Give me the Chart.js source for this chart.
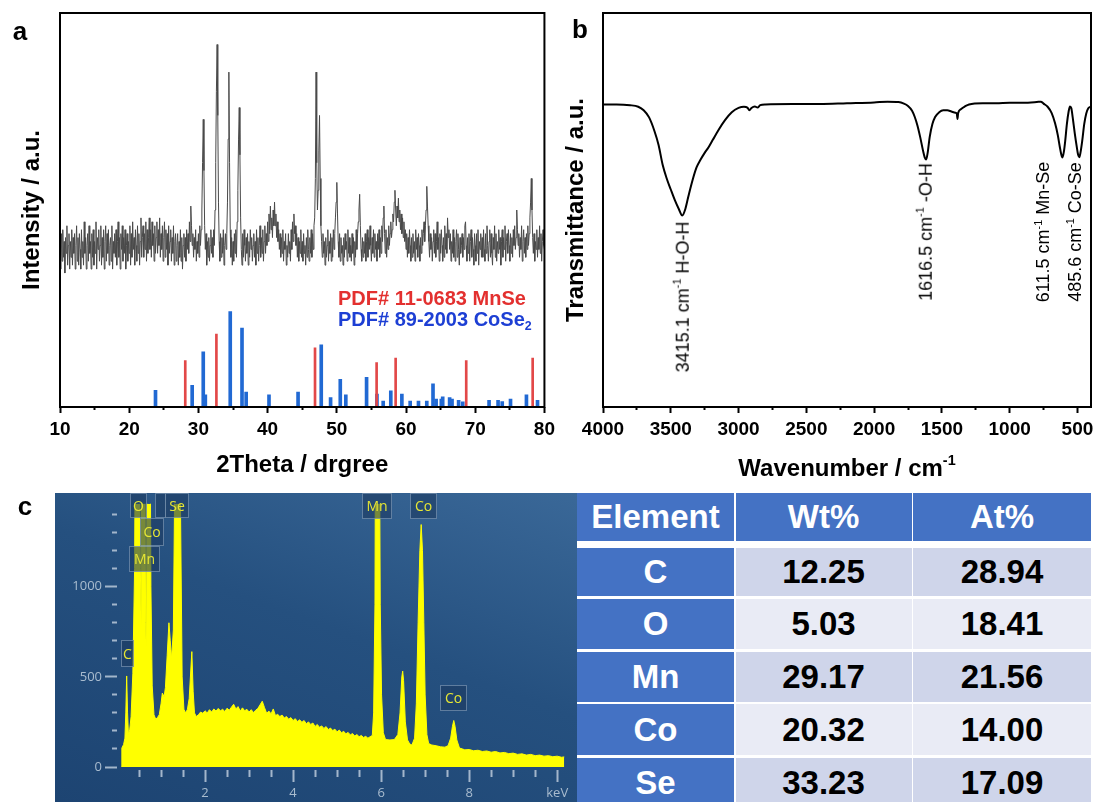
<!DOCTYPE html>
<html>
<head>
<meta charset="utf-8">
<script src="https://cdn.jsdelivr.net/npm/chart.js@4.4.1/dist/chart.umd.min.js"></script>
<style>
  body { margin: 0; width: 1099px; height: 802px; background: #fff; position: relative; overflow: hidden;
         font-family: 'Liberation Sans', Arial, sans-serif; }
  canvas { position: absolute; }
  .letter { position: absolute; font-weight: bold; font-size: 26px; transform: translate(-50%, -50%); }
  .note { position: absolute; font-size: 18px; white-space: nowrap; transform: translate(-50%, -50%) rotate(-90deg); }
  .note sup, .xtitle sup { font-size: 0.6em; vertical-align: 0.7em; }
  .pdf { position: absolute; left: 338px; font-weight: bold; font-size: 20px; line-height: 20px; white-space: nowrap; }
  .pdf sub { font-size: 0.62em; vertical-align: -0.3em; }
  .xtitle { position: absolute; font-weight: bold; font-size: 24px; white-space: nowrap; transform: translate(-50%, -50%); }
  #edsPanel { position: absolute; left: 55px; top: 493px; width: 522px; height: 309px;
              background: linear-gradient(200deg, #3a6898 0%, #25507f 45%, #1d4472 100%); }
  .peak { position: absolute; box-sizing: border-box; border: 1px solid rgba(150, 175, 200, 0.55);
          background: rgba(28, 58, 96, 0.6); color: #e6e634; font-family: 'Open Sans', sans-serif;
          font-size: 14px; text-align: center; }
  .grid { position: absolute; left: 577px; display: grid; grid-template-columns: 157px 176px 178px; column-gap: 1.5px; }
  #thead { top: 493px; grid-template-rows: 48px; }
  #tbody { top: 548px; grid-template-rows: 48px 50.5px 50px 51px 50px; row-gap: 2.5px; }
  .cell { display: flex; align-items: center; justify-content: center; font-weight: bold; font-size: 33px; }
  .head { background: #4472c4; color: #fff; }
  .dark { background: #cfd5ea; color: #000; }
  .light { background: #e9ebf5; color: #000; }
</style>
</head>
<body>
<canvas id="xrd" width="560" height="485" style="left:0;top:0"></canvas>
<canvas id="ftir" width="539" height="485" style="left:560px;top:0"></canvas>
<div id="edsPanel"></div>
<canvas id="eds" width="522" height="309" style="left:55px;top:493px"></canvas>

<div class="letter" style="left:20px;top:31px">a</div>
<div class="letter" style="left:580px;top:29px">b</div>
<div class="letter" style="left:25px;top:506px">c</div>

<div class="pdf" style="top:288px;color:#e3302f">PDF# 11-0683 MnSe</div>
<div class="pdf" style="top:309px;color:#1d3fd4">PDF# 89-2003 CoSe<sub>2</sub></div>

<div class="note" style="left:682px;top:297px">3415.1 cm<sup>-1</sup> H-O-H</div>
<div class="note" style="left:925px;top:232px">1616.5 cm<sup>-1</sup> -O-H</div>
<div class="note" style="left:1043px;top:232px">611.5 cm<sup>-1</sup> Mn-Se</div>
<div class="note" style="left:1075px;top:232px">485.6 cm<sup>-1</sup> Co-Se</div>
<div class="xtitle" style="left:847px;top:467px">Wavenumber / cm<sup>-1</sup></div>

<div class="peak" style="left:130px;top:493px;width:17px;height:25px;line-height:23px">O</div>
<div class="peak" style="left:155px;top:493px;width:11px;height:25px"></div>
<div class="peak" style="left:165px;top:493px;width:24px;height:25px;line-height:23px">Se</div>
<div class="peak" style="left:140px;top:518px;width:24px;height:28px;line-height:26px">Co</div>
<div class="peak" style="left:129px;top:546px;width:31px;height:26px;line-height:24px">Mn</div>
<div class="peak" style="left:121px;top:640px;width:13px;height:27px;line-height:25px">C</div>
<div class="peak" style="left:362px;top:493px;width:30px;height:26px;line-height:24px">Mn</div>
<div class="peak" style="left:410px;top:493px;width:27px;height:26px;line-height:24px">Co</div>
<div class="peak" style="left:440px;top:685px;width:27px;height:26px;line-height:24px">Co</div>

<div id="thead" class="grid"></div>
<div id="tbody" class="grid"></div>

<script>
// ---- panel a: XRD pattern, one intensity every 0.1 degree from 10 to 80 ----
const xrdStart = 10;
const xrdStep = 0.1;
const xrdIntensity = [
  41, 35, 44, 37, 45, 38, 42, 34, 43, 39,   // 10
  46, 36, 41, 44, 35, 42, 38, 45, 36, 43,   // 11
  39, 44, 35, 41, 46, 37, 43, 36, 44, 40,   // 12
  35, 45, 38, 42, 36, 47, 39, 43, 35, 41,   // 13
  44, 37, 46, 39, 42, 35, 44, 38, 45, 36,   // 14
  42, 39, 47, 35, 43, 40, 45, 37, 41, 46,   // 15
  36, 43, 38, 45, 35, 42, 46, 37, 44, 39,   // 16
  45, 36, 41, 43, 37, 46, 35, 42, 39, 44,   // 17
  38, 45, 36, 42, 47, 38, 43, 35, 44, 40,   // 18
  46, 37, 43, 39, 45, 35, 41, 44, 37, 42,   // 19
  39, 46, 36, 44, 38, 47, 40, 43, 36, 45,   // 20
  41, 37, 46, 39, 44, 36, 42, 48, 38, 43,   // 21
  46, 38, 44, 40, 47, 37, 45, 39, 43, 48,   // 22
  40, 45, 38, 47, 41, 44, 37, 46, 39, 43,   // 23
  47, 39, 45, 41, 48, 38, 44, 40, 46, 37,   // 24
  43, 47, 38, 45, 40, 44, 36, 46, 39, 42,   // 25
  45, 37, 43, 39, 46, 36, 42, 44, 37, 41,   // 26
  44, 36, 42, 38, 45, 37, 43, 35, 41, 44,   // 27
  38, 43, 37, 45, 40, 44, 39, 47, 42, 51,   // 28
  46, 41, 44, 38, 43, 40, 45, 37, 42, 39,   // 29
  44, 38, 46, 41, 45, 50, 62, 73, 60, 46,   // 30
  40, 44, 36, 42, 38, 43, 37, 41, 45, 39,   // 31
  43, 38, 45, 41, 50, 62, 80, 92, 74, 52,   // 32
  42, 37, 44, 38, 43, 39, 45, 36, 41, 44,   // 33
  40, 44, 52, 68, 85, 62, 45, 38, 43, 36,   // 34
  42, 37, 44, 39, 45, 38, 47, 55, 68, 76,   // 35
  64, 48, 40, 36, 44, 38, 45, 41, 37, 43,   // 36
  39, 44, 36, 42, 38, 45, 40, 43, 37, 41,   // 37
  44, 38, 42, 36, 45, 39, 43, 37, 41, 46,   // 38
  38, 43, 39, 45, 37, 42, 46, 39, 44, 41,   // 39
  47, 42, 49, 44, 51, 45, 48, 43, 50, 46,   // 40
  52, 46, 49, 43, 47, 42, 45, 40, 44, 38,   // 41
  43, 39, 45, 37, 42, 40, 44, 36, 41, 38,   // 42
  44, 39, 42, 37, 45, 40, 47, 42, 49, 44,   // 43
  46, 41, 44, 38, 43, 37, 42, 39, 45, 38,   // 44
  42, 37, 44, 39, 41, 36, 43, 38, 45, 40,   // 45
  37, 43, 39, 45, 38, 44, 40, 46, 48, 58,   // 46
  85, 62, 50, 55, 65, 74, 58, 46, 42, 38,   // 47
  44, 39, 42, 36, 43, 38, 41, 45, 37, 42,   // 48
  39, 44, 37, 43, 38, 45, 40, 44, 48, 52,   // 49
  57, 49, 42, 38, 44, 37, 43, 39, 41, 36,   // 50
  43, 38, 44, 40, 42, 37, 45, 39, 43, 38,   // 51
  41, 37, 44, 39, 43, 36, 42, 38, 45, 40,   // 52
  44, 47, 50, 54, 46, 40, 37, 43, 38, 42,   // 53
  39, 44, 37, 42, 45, 38, 43, 40, 46, 41,   // 54
  37, 43, 39, 45, 38, 44, 40, 42, 37, 44,   // 55
  40, 45, 38, 43, 39, 46, 42, 48, 51, 44,   // 56
  39, 45, 38, 43, 40, 46, 41, 44, 47, 43,   // 57
  45, 49, 47, 52, 55, 50, 46, 51, 48, 53,   // 58
  47, 50, 45, 49, 44, 48, 43, 47, 42, 45,   // 59
  40, 44, 38, 43, 39, 45, 41, 37, 43, 38,   // 60
  44, 39, 42, 37, 45, 40, 43, 38, 44, 41,   // 61
  37, 43, 39, 45, 41, 44, 47, 42, 46, 50,   // 62
  56, 51, 46, 42, 38, 44, 40, 43, 37, 42,   // 63
  45, 39, 44, 38, 42, 47, 40, 43, 37, 44,   // 64
  39, 45, 41, 37, 43, 38, 46, 40, 44, 39,   // 65
  48, 43, 45, 40, 44, 37, 42, 39, 45, 38,   // 66
  43, 37, 42, 45, 38, 44, 40, 36, 43, 39,   // 67
  41, 44, 38, 43, 40, 46, 47, 41, 37, 43,   // 68
  39, 44, 37, 42, 45, 38, 43, 40, 36, 44,   // 69
  41, 37, 44, 39, 45, 36, 42, 40, 44, 38,   // 70
  43, 38, 45, 40, 37, 44, 39, 46, 41, 37,   // 71
  42, 45, 38, 44, 39, 36, 43, 40, 46, 38,   // 72
  44, 37, 42, 39, 45, 40, 43, 36, 42, 45,   // 73
  38, 43, 40, 46, 37, 42, 44, 39, 45, 41,   // 74
  37, 44, 39, 43, 38, 45, 41, 46, 40, 43,   // 75
  50, 45, 41, 44, 38, 43, 40, 46, 37, 42,   // 76
  45, 39, 43, 38, 44, 40, 46, 41, 44, 48,   // 77
  52, 58, 50, 43, 39, 44, 37, 42, 40, 45,   // 78
  38, 43, 40, 46, 39, 44, 37, 42, 45, 41,   // 79
  40
];
const mnseAngle = [28.1, 32.6, 46.85, 55.75, 58.5, 68.7, 78.3];
const mnseHeight = [11.8, 18.5, 15.0, 11.3, 12.4, 11.8, 12.4];
const cose2Angle = [23.8, 29.1, 30.7, 31.0, 34.6, 36.3, 36.9, 40.2, 44.4, 47.75, 49.1, 50.5, 51.3, 54.3,
  55.8, 56.7, 57.8, 59.4, 60.6, 61.8, 63.0, 63.9, 64.35, 65.1, 65.3, 66.3, 66.65, 67.6, 68.2,
  72.0, 73.3, 73.9, 75.1, 77.4, 79.0];
const cose2Height = [4.2, 5.5, 14.0, 3.1, 24.2, 20.0, 3.8, 3.1, 3.8, 15.8, 2.4, 7.0, 3.1, 7.5,
  3.3, 1.5, 4.1, 3.3, 1.5, 1.5, 1.5, 5.9, 2.0, 2.0, 2.6, 2.4, 2.0, 1.7, 1.3,
  1.7, 1.7, 1.4, 2.0, 3.1, 1.7];
const xrdTickLabels = [10, 20, 30, 40, 50, 60, 70, 80];

// ---- panel b: FTIR ----
const ftirWavenumber = [4000, 3900, 3800, 3740, 3700, 3660, 3620, 3590, 3560, 3530, 3500, 3470, 3440, 3415,
  3395, 3370, 3340, 3310, 3280, 3250, 3220, 3190, 3150, 3100, 3050, 3000, 2960, 2935, 2920, 2905,
  2880, 2860, 2840, 2800, 2600, 2400, 2200, 2000, 1900, 1820, 1780, 1750, 1720, 1700, 1680, 1660,
  1640, 1625, 1616, 1605, 1590, 1570, 1550, 1520, 1490, 1460, 1430, 1400, 1390, 1385, 1380, 1360,
  1330, 1300, 1200, 1100, 1000, 900, 800, 770, 750, 720, 690, 665, 645, 630, 620, 611, 600, 590,
  578, 565, 555, 545, 535, 520, 505, 495, 486, 478, 465, 450, 435, 420, 405];
const ftirTransmittance = [76.8, 76.8, 76.6, 76.2, 75.3, 73.5, 70.0, 66.5, 61.5, 58.0, 55.2, 52.5, 50.2, 48.6,
  50.0, 53.5, 57.5, 60.8, 62.8, 64.5, 66.0, 67.8, 70.2, 72.8, 74.8, 75.9, 76.2, 76.0, 75.3, 75.9,
  76.3, 76.0, 76.6, 76.8, 76.9, 76.9, 77.1, 77.3, 77.5, 77.4, 77.0, 76.4, 75.2, 73.6, 71.4, 68.5,
  65.2, 63.2, 62.8, 64.5, 68.5, 71.8, 73.6, 74.8, 75.3, 75.3, 75.0, 74.7, 74.5, 73.1, 74.6, 75.6,
  76.3, 76.8, 77.1, 77.1, 77.2, 77.2, 77.4, 77.5, 77.0, 76.2, 74.6, 72.0, 69.0, 66.0, 64.2, 63.3, 64.8, 67.6,
  71.8, 75.0, 76.3, 75.8, 73.5, 69.5, 66.0, 64.0, 63.4, 64.5, 67.5, 71.8, 74.5, 75.8, 76.2];
const ftirTickLabels = [500, 1000, 1500, 2000, 2500, 3000, 3500, 4000];

// ---- panel c: EDS spectrum ----
const edsEnergy = [0.10, 0.11, 0.15, 0.18, 0.20, 0.22, 0.24, 0.26, 0.29, 0.32, 0.36, 0.40, 0.43, 0.49,
  0.53, 0.55, 0.57, 0.62, 0.65, 0.67, 0.69, 0.74, 0.77, 0.80, 0.84, 0.88, 0.92, 0.96, 1.00, 1.03, 1.07, 1.10,
  1.14, 1.18, 1.21, 1.24, 1.28, 1.32, 1.35, 1.41, 1.44, 1.48, 1.52, 1.56, 1.60, 1.64, 1.70, 1.73,
  1.76, 1.80,
  1.85, 1.90, 1.95, 2.00, 2.05, 2.10, 2.15, 2.20, 2.25, 2.30, 2.35, 2.40, 2.45, 2.50, 2.55, 2.60,
  2.65, 2.70, 2.75, 2.80, 2.85, 2.90, 2.95, 3.00, 3.05, 3.10, 3.15, 3.20, 3.25, 3.30, 3.35, 3.40,
  3.45, 3.50, 3.55, 3.60, 3.65, 3.70, 3.75, 3.80, 3.85, 3.90, 3.95, 4.00, 4.05, 4.10, 4.15, 4.20,
  4.25, 4.30, 4.35, 4.40, 4.45, 4.50, 4.55, 4.60, 4.65, 4.70, 4.75, 4.80, 4.85, 4.90, 4.95, 5.00,
  5.05, 5.10, 5.15, 5.20, 5.25, 5.30, 5.35, 5.40, 5.45, 5.50, 5.55, 5.60, 5.65, 5.70, 5.75, 5.80,
  5.83, 5.86, 5.88, 5.95, 5.98, 6.01, 6.05, 6.10, 6.20, 6.30, 6.38, 6.43, 6.47, 6.49, 6.51, 6.55,
  6.60, 6.65, 6.70, 6.76, 6.80, 6.84, 6.88, 6.91, 6.94, 6.97, 7.00, 7.04, 7.08, 7.15, 7.25, 7.35,
  7.45, 7.52, 7.58, 7.62, 7.65, 7.68, 7.72, 7.78, 7.85, 7.90, 8.00, 8.10, 8.20, 8.30, 8.40, 8.50,
  8.60, 8.70, 8.80, 8.90, 9.00, 9.10, 9.20, 9.30, 9.40, 9.50, 9.60, 9.70, 9.80, 9.90, 10.00, 10.10, 10.16];
const edsCounts = [0, 105, 125, 160, 300, 505, 300, 180, 210, 280, 520, 1100, 2600, 2600,
  1100, 780, 2600, 2600, 800, 585, 2600, 2600, 1000, 450, 290, 265, 275, 290, 350, 410, 390, 440,
  620, 800, 700, 600, 760, 1800, 2600, 2600, 1500, 500, 320, 300, 320, 380, 640, 420,
  300, 280,
  290, 305, 298, 312, 300, 318, 305, 322, 310, 325, 312, 320, 308, 326, 315, 332,
  348, 322, 335, 310, 328, 312, 320, 305, 318, 302, 315, 325, 345, 365, 330, 298,
  310, 295, 322, 285, 292, 280, 288, 272, 280, 265, 274, 258, 268, 252, 262, 248,
  258, 240, 250, 236, 244, 225, 236, 220, 228, 214, 224, 208, 216, 202, 210, 195,
  205, 190, 198, 184, 192, 178, 186, 172, 180, 168, 175, 164, 170, 160, 168, 175,
  300, 900, 2600, 2600, 900, 400, 190, 152, 150, 152, 180, 300, 500, 532, 480, 250,
  150, 128, 122, 160, 350, 800, 1200, 1345, 1200, 800, 400, 180, 130, 122, 118, 112,
  110, 118, 160, 225, 258, 225, 150, 105, 100, 95, 97, 90, 93, 86, 89, 82,
  86, 78, 81, 74, 77, 70, 73, 66, 70, 63, 66, 60, 63, 57, 60, 54, 56];
const edsTickValues = [2, 4, 6, 8, 10];
const edsTickText = ['2', '4', '6', '8', 'keV'];
const edsCountLabels = [0, 500, 1000];

// ---- table ----
const tableHeader = ['Element', 'Wt%', 'At%'];
const elements = ['C', 'O', 'Mn', 'Co', 'Se'];
const wtPercent = ['12.25', '5.03', '29.17', '20.32', '33.23'];
const atPercent = ['28.94', '18.41', '21.56', '14.00', '17.09'];

Chart.defaults.font.family = "'Liberation Sans', Arial, sans-serif";
Chart.defaults.color = '#000';
Chart.defaults.animation = false;

// black box round the plot area
const frameBox = {
  id: 'frameBox',
  afterDraw(chart, args, opts) {
    const { ctx, chartArea: a } = chart;
    ctx.save();
    ctx.strokeStyle = opts.color || '#000';
    ctx.lineWidth = opts.width || 2;
    ctx.strokeRect(a.left, a.top, a.right - a.left, a.bottom - a.top);
    ctx.restore();
  }
};

// shorter tick marks for values that carry no label
const minorDash = (labels, dash) => (ctx) => (labels.includes(ctx.tick.value) ? [] : dash);

const xrdPoints = xrdIntensity.map((y, i) => ({ x: xrdStart + i * xrdStep, y }));
const mnsePoints = mnseAngle.map((x, i) => ({ x, y: mnseHeight[i] }));
const cose2Points = cose2Angle.map((x, i) => ({ x, y: cose2Height[i] }));

new Chart(document.getElementById('xrd'), {
  type: 'line',
  data: {
    datasets: [
      { label: 'XRD', data: xrdPoints, borderColor: '#4a4a4a', borderWidth: 1, pointRadius: 0, order: 2 },
      { type: 'bar', label: 'MnSe', data: mnsePoints, backgroundColor: '#e24848', barThickness: 2, grouped: false, order: 1 },
      { type: 'bar', label: 'CoSe2', data: cose2Points, backgroundColor: '#2169d3', barThickness: 3, grouped: false, order: 1 }
    ]
  },
  options: {
    responsive: false,
    layout: { padding: { top: 13, right: 13, left: 0, bottom: 0 } },
    plugins: { legend: { display: false }, tooltip: { enabled: false }, frameBox: { color: '#000', width: 2 } },
    scales: {
      x: {
        type: 'linear', min: 10, max: 80, offset: false,
        grid: { drawOnChartArea: false, offset: false, color: '#000', tickLength: 6, tickWidth: 2,
                tickBorderDash: minorDash(xrdTickLabels, [3, 40]) },
        border: { display: false },
        ticks: { stepSize: 5, autoSkip: false, maxRotation: 0, includeBounds: false, padding: 5,
                 font: { size: 19, weight: 'bold' }, color: '#000',
                 callback: (v) => (xrdTickLabels.includes(v) ? String(v) : '') },
        title: { display: true, text: '2Theta / drgree', font: { size: 24, weight: 'bold' }, padding: { top: 0, bottom: 5 } },
        afterFit: (s) => { s.height = 78; }
      },
      y: {
        min: 0, max: 100,
        grid: { display: false }, border: { display: false }, ticks: { display: false },
        title: { display: true, text: 'Intensity / a.u.', font: { size: 24, weight: 'bold' }, padding: { top: 18, bottom: 0 } },
        afterFit: (s) => { s.width = 60; }
      }
    }
  },
  plugins: [frameBox]
});

const ftirPoints = ftirWavenumber.map((x, i) => ({ x, y: ftirTransmittance[i] }));

new Chart(document.getElementById('ftir'), {
  type: 'line',
  data: {
    datasets: [
      { label: 'FTIR', data: ftirPoints, borderColor: '#000', borderWidth: 2, pointRadius: 0, cubicInterpolationMode: 'monotone' }
    ]
  },
  options: {
    responsive: false,
    layout: { padding: { top: 13, right: 8, left: 0, bottom: 0 } },
    plugins: { legend: { display: false }, tooltip: { enabled: false }, frameBox: { color: '#000', width: 2 } },
    scales: {
      x: {
        type: 'linear', reverse: true, min: 400, max: 4000,
        grid: { drawOnChartArea: false, color: '#000', tickLength: 6, tickWidth: 2,
                tickBorderDash: minorDash(ftirTickLabels, [3, 40]) },
        border: { display: false },
        ticks: { stepSize: 250, autoSkip: false, maxRotation: 0, includeBounds: false, padding: 5,
                 font: { size: 19, weight: 'bold' }, color: '#000',
                 callback: (v) => (ftirTickLabels.includes(v) ? String(v) : '') },
        afterFit: (s) => { s.height = 78; }
      },
      y: {
        min: 0, max: 100,
        grid: { display: false }, border: { display: false }, ticks: { display: false },
        title: { display: true, text: 'Transmittance / a.u.', font: { size: 24, weight: 'bold' }, padding: { top: 2, bottom: 0 } },
        afterFit: (s) => { s.width = 43; }
      }
    }
  },
  plugins: [frameBox]
});

const edsPoints = edsEnergy.map((x, i) => ({ x, y: edsCounts[i] }));
const edsAxisColor = '#a3b6cb';

new Chart(document.getElementById('eds'), {
  type: 'line',
  data: {
    datasets: [
      { label: 'EDS', data: edsPoints, borderColor: '#ffff00', backgroundColor: '#ffff00', borderWidth: 1,
        pointRadius: 0, fill: 'origin' }
    ]
  },
  options: {
    responsive: false,
    layout: { padding: { top: 0, right: 11, left: 0, bottom: 0 } },
    plugins: { legend: { display: false }, tooltip: { enabled: false } },
    scales: {
      x: {
        type: 'linear', min: 0, max: 10.2,
        grid: { drawOnChartArea: false, tickLength: 15, tickWidth: 2,
                tickColor: (ctx) => (ctx.tick.value === 0 ? 'rgba(0,0,0,0)' : edsAxisColor),
                tickBorderDash: (ctx) => (edsTickValues.includes(ctx.tick.value) ? [0, 3, 12, 40] : [0, 3, 7, 40]) },
        border: { display: false },
        ticks: { stepSize: 0.5, autoSkip: false, maxRotation: 0, includeBounds: false, padding: 3,
                 color: '#a9bccf', font: { family: "'Open Sans', sans-serif", size: 13 },
                 callback: (v) => { const k = edsTickValues.indexOf(v); return k < 0 ? '' : edsTickText[k]; } },
        afterFit: (s) => { s.height = 35; }
      },
      y: {
        min: 0, max: 1460,
        grid: { drawOnChartArea: false, tickLength: 12, tickWidth: 2, tickColor: edsAxisColor,
                tickBorderDash: (ctx) => (edsCountLabels.includes(ctx.tick.value) ? [] : [0, 7, 5, 40]) },
        border: { display: false },
        ticks: { stepSize: 100, autoSkip: false, includeBounds: false, padding: 3,
                 color: '#a9bccf', font: { family: "'Open Sans', sans-serif", size: 13 },
                 callback: (v) => (edsCountLabels.includes(v) ? String(v) : '') },
        afterFit: (s) => { s.width = 62; }
      }
    }
  }
});

// table of composition
const thead = document.getElementById('thead');
tableHeader.forEach((t) => {
  const d = document.createElement('div');
  d.className = 'cell head';
  d.textContent = t;
  thead.appendChild(d);
});
const tbody = document.getElementById('tbody');
elements.forEach((el, i) => {
  [el, wtPercent[i], atPercent[i]].forEach((t, j) => {
    const d = document.createElement('div');
    d.className = 'cell ' + (j === 0 ? 'head' : (i % 2 ? 'light' : 'dark'));
    d.textContent = t;
    tbody.appendChild(d);
  });
});
</script>
</body>
</html>
